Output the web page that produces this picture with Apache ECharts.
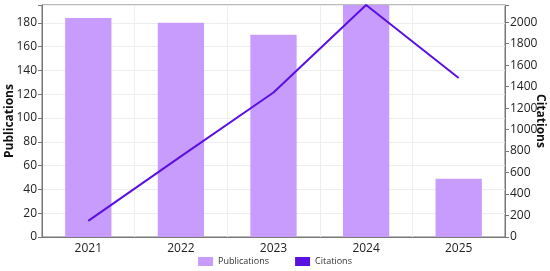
<!DOCTYPE html>
<html>
<head>
<meta charset="utf-8">
<script src="https://cdn.jsdelivr.net/npm/echarts@6/dist/echarts.min.js"></script>
<style>
  html, body { margin: 0; padding: 0; background: #fff; }
  #main { width: 550px; height: 271px; }
</style>
</head>
<body>
<div id="main"></div>
<script>
// 数据
var years = ['2021', '2022', '2023', '2024', '2025'];
var publications = [184, 180, 170, 195, 49];
var citations = [150, 750, 1345, 2160, 1480];

var font = 'Open Sans';
var axisGray = '#777';

var myChart = echarts.init(document.getElementById('main'));

var option = {
    textStyle: { fontFamily: font },
    animation: false,
    grid: {
        left: 42, right: 45, top: 5, bottom: 34,
        outerBoundsMode: 'none',
        containLabel: false,
        show: true, borderColor: axisGray, borderWidth: 1
    },
    legend: {
        bottom: 0,
        itemWidth: 15, itemHeight: 9, itemGap: 26,
        textStyle: { fontSize: 9, color: '#333', fontFamily: font },
        data: [
            { name: 'Publications', icon: 'rect' },
            { name: 'Citations', icon: 'rect' }
        ]
    },
    xAxis: {
        type: 'category',
        data: years,
        boundaryGap: true,
        axisLine: { lineStyle: { color: axisGray } },
        axisTick: { alignWithLabel: true, length: 4, lineStyle: { color: axisGray } },
        axisLabel: { color: '#222', fontSize: 12, margin: 6 },
        splitLine: { show: true, lineStyle: { color: '#eee' } }
    },
    yAxis: [{
        type: 'value',
        name: 'Publications',
        nameLocation: 'middle',
        nameGap: 26,
        nameMoveOverlap: false,
        nameTextStyle: { fontWeight: 'bold', fontSize: 12, color: '#111' },
        min: 0, max: 195, interval: 20,
        axisLine: { show: true, lineStyle: { color: axisGray } },
        axisTick: { show: true, length: 4, lineStyle: { color: axisGray } },
        axisLabel: { color: '#222', fontSize: 12, margin: 5,
            formatter: function (v) { return v % 20 === 0 ? v : ''; } },
        splitLine: { show: true, lineStyle: { color: '#eee' } }
    }, {
        type: 'value',
        name: 'Citations',
        nameLocation: 'middle',
        nameGap: 29,
        nameMoveOverlap: false,
        nameRotate: -90,
        nameTextStyle: { fontWeight: 'bold', fontSize: 12, color: '#111' },
        min: 0, max: 2160, interval: 200,
        axisLine: { show: true, lineStyle: { color: axisGray } },
        axisTick: { show: true, length: 4, lineStyle: { color: axisGray } },
        axisLabel: { color: '#222', fontSize: 12, margin: 5,
            formatter: function (v) { return v % 200 === 0 ? v : ''; } },
        splitLine: { show: false }
    }],
    series: [{
        name: 'Publications',
        type: 'bar',
        data: publications,
        barWidth: '50%',
        itemStyle: { color: '#c89cfc' }
    }, {
        name: 'Citations',
        type: 'line',
        yAxisIndex: 1,
        data: citations,
        symbol: 'none',
        lineStyle: { color: '#5a10e0', width: 2 },
        itemStyle: { color: '#5a10e0' }
    }]
};

myChart.setOption(option);
</script>
</body>
</html>
